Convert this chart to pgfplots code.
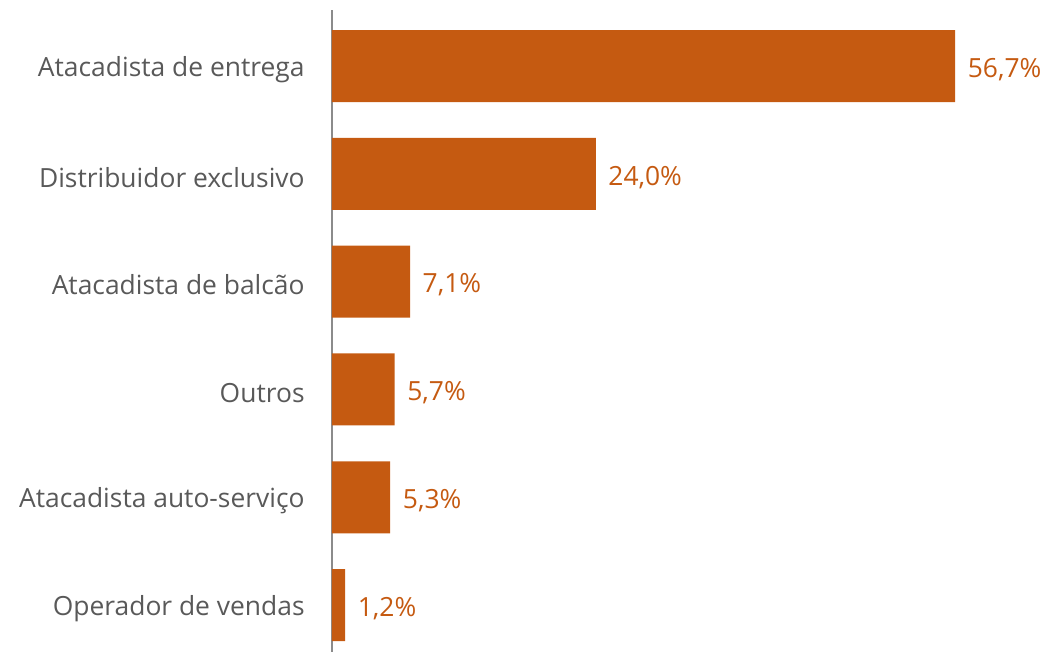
\documentclass[border=0pt]{standalone}
\usepackage{pgfplots}
\pgfplotsset{compat=1.18}
\usepackage{fontspec}
\setmainfont{Open Sans}
\definecolor{barc}{HTML}{C55A11}
\definecolor{txtc}{HTML}{595959}
\begin{document}
\begin{tikzpicture}[x=1pt,y=1pt]
\begin{axis}[
  scale only axis,
  width=537pt, height=481.5pt,
  xbar, bar width=54pt,
  xmin=0, xmax=65.15,
  ymin=-0.52, ymax=5.435,
  y dir=reverse,
  axis lines*=left,
  x axis line style={draw=none},
  xtick=\empty,
  ytick={0,1,2,3,4,5},
  yticklabels={Atacadista de entrega,Distribuidor exclusivo,Atacadista de balcão,Outros,Atacadista auto-serviço,Operador de vendas},
  y axis line style={draw=txtc!70, line width=0.8pt},
  major tick length=0pt,
  /pgf/number format/assume math mode=true,
  yticklabel style={font=\fontsize{19.8}{22}\selectfont, text=txtc, xshift=-17pt, yshift=-2.5pt},
  nodes near coords={\pgfmathprintnumber[use comma,fixed,fixed zerofill,precision=1]{\pgfplotspointmeta}\%},
  nodes near coords style={font=\fontsize{19.8}{22}\selectfont, text=barc, anchor=west, xshift=6pt, yshift=-2.5pt},
  point meta=explicit,
  clip=false,
]
\addplot[fill=barc, draw=none] coordinates {
 (56.7,0) [56.7]
 (24.0,1) [24.0]
 (7.1,2) [7.1]
 (5.7,3) [5.7]
 (5.3,4) [5.3]
 (1.2,5) [1.2]
};
\end{axis}
\useasboundingbox ([xshift=-249pt,yshift=-0.75pt]current axis.south west) rectangle ([yshift=7.5pt]current axis.north east);
\end{tikzpicture}
\end{document}
